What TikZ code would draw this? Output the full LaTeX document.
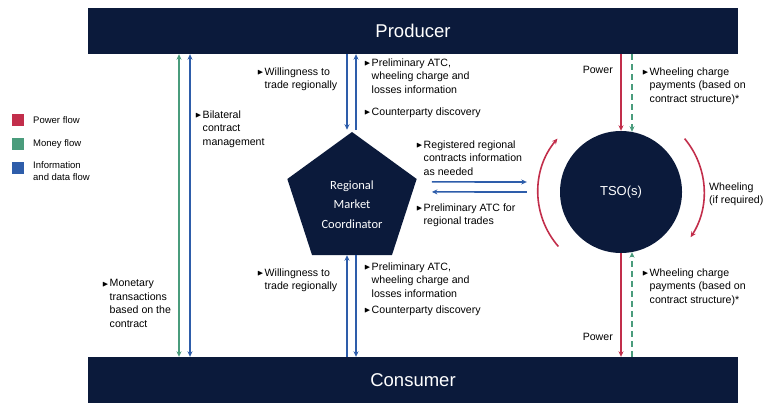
\documentclass[tikz,border=0pt]{standalone}
\usepackage{amssymb}
\usepackage{fontspec}
\setmainfont{Liberation Sans}
\newfontfamily\calfont{Carlito}
\usetikzlibrary{shapes.geometric,arrows.meta,calc}

\definecolor{navy}{HTML}{0B1A3B}
\definecolor{powerred}{HTML}{C22E4B}
\definecolor{moneygreen}{HTML}{4A9C7C}
\definecolor{infoblue}{HTML}{2E5DAA}

\newcommand\bul{\makebox[7.5pt][l]{\raisebox{0.6pt}{$\scriptstyle\blacktriangleright$}}}
\newcommand\ind{\hspace*{7.5pt}}

\tikzset{
  bar/.style={fill=navy,text=white,minimum width=650pt,minimum height=46pt,
    font=\fontsize{18.5}{22}\selectfont},
  txt/.style={align=left,inner sep=0pt,anchor=north west,
    font=\fontsize{10.6}{13.4}\selectfont},
  legtxt/.style={align=left,inner sep=0pt,anchor=west,
    font=\fontsize{9.5}{12.5}\selectfont},
  swatch/.style={minimum size=12pt,inner sep=0pt},
  flow/.style={line width=1.6pt,-{Stealth[length=5.5pt,width=5pt]}},
  twoway/.style={{Stealth[length=5.5pt,width=5pt]}-{Stealth[length=5.5pt,width=5pt]}},
  power/.style={flow,powerred},
  money/.style={flow,moneygreen},
  info/.style={flow,infoblue},
  paid/.style={money,dash pattern=on 6pt off 4pt},
}

\begin{document}
\begin{tikzpicture}[x=1pt,y=-1pt]
  \useasboundingbox (0,0) rectangle (767,403);
  % bars
  \node[bar] (prod) at (413,31) {Producer};
  \node[bar] (cons) at (413,380) {Consumer};
  % legend
  \node[swatch,fill=powerred] (lpow) at (18,120) {};
  \node[swatch,fill=moneygreen] (lmon) at (18,144) {};
  \node[swatch,fill=infoblue] (linf) at (18,168) {};
  \node[legtxt] (lpowt) at (33,120) {Power flow};
  \node[legtxt] (lmont) at (33,144) {Money flow};
  \node[legtxt] (linft) at (33,171) {Information\\and data flow};
  % main shapes
  \node[regular polygon,regular polygon sides=5,minimum size=136pt,inner sep=0pt,
    fill=navy,text=white,font=\calfont\fontsize{12.5}{19.5}\selectfont] (rmc) at (352,200)
    {\raisebox{-8pt}[0pt][0pt]{\begin{tabular}{@{}c@{}}Regional\\Market\\Coordinator\end{tabular}}};
  \node[circle,minimum size=122pt,fill=navy,text=white,
    font=\fontsize{13}{15}\selectfont] (tso) at (621,192) {TSO(s)};

  % bilateral arrows
  \coordinate (gm) at (179,200);
  \coordinate (bm) at (190,200);
  \draw[money,twoway] (gm |- prod.south) -- (gm |- cons.north);
  \draw[info,twoway] (bm |- prod.south) -- (bm |- cons.north);
  \node[txt] (bil) at (195,110.5) {\bul Bilateral\\\ind contract\\\ind management};
  \node[txt] (mon) at (102,279.5) {\bul Monetary\\\ind transactions\\\ind based on the\\\ind contract};

  % coordinator arrows
  \coordinate (rmcUL) at ($(rmc.north)+(-5,-2)$);
  \coordinate (rmcUR) at ($(rmc.north)+(4,-2)$);
  \coordinate (rmcB) at ($(rmc.corner 3)!0.5!(rmc.corner 4)$);
  \coordinate (rmcLL) at ($(rmcB)+(-5,0)$);
  \coordinate (rmcLR) at ($(rmcB)+(4,0)$);
  \draw[info] (rmcUL |- prod.south) -- (rmcUL);
  \draw[info] (rmcUR) -- (rmcUR |- prod.south);
  \draw[info] (rmcLL |- cons.north) -- (rmcLL);
  \draw[info] (rmcLR) -- (rmcLR |- cons.north);
  \node[txt] (wtr1) at (257,67.5) {\bul Willingness to\\\ind trade regionally};
  \node[txt] (atc1) at (364,58.5) {\bul Preliminary ATC,\\\ind wheeling charge and\\\ind losses information};
  \node[txt] (cpd1) at (364,107.5) {\bul Counterparty discovery};
  \node[txt] (wtr2) at (257,268.5) {\bul Willingness to\\\ind trade regionally};
  \node[txt] (atc2) at (364,262.5) {\bul Preliminary ATC,\\\ind wheeling charge and\\\ind losses information};
  \node[txt] (cpd2) at (364,305.5) {\bul Counterparty discovery};

  % coordinator <-> TSO
  \coordinate (hL) at ($(rmc.corner 5)+(15,3)$);
  \coordinate (hR) at ($(tso.west)+(-33,-10)$);
  \coordinate (hL2) at ($(hL)+(0,10)$);
  \coordinate (hR2) at ($(hR)+(0,10)$);
  \draw[info] (hL) -- (hR);
  \draw[info] (hR2) -- (hL2);
  \node[txt] (reg) at (416,140.5) {\bul Registered regional\\\ind contracts information\\\ind as needed};
  \node[txt] (atc3) at (416,203.5) {\bul Preliminary ATC for\\\ind regional trades};

  % TSO flows
  \coordinate (gt) at ($(tso.north)+(11,1)$);
  \coordinate (gb) at ($(tso.south)+(11,-1)$);
  \draw[power] (tso.north |- prod.south) -- (tso.north);
  \draw[paid] (gt |- prod.south) -- (gt);
  \draw[power] (tso.south) -- (tso.south |- cons.north);
  \draw[paid] (gb |- cons.north) -- (gb);
  \draw[power] ($(tso.center)+(139:83)$) arc[start angle=139,end angle=220,radius=83];
  \draw[power] ($(tso.center)+(-40:83)$) arc[start angle=-40,end angle=33,radius=83];
  \node[txt,anchor=east] (pow1) at (613,70) {Power};
  \node[txt,anchor=east] (pow2) at (613,337) {Power};
  \node[txt] (whc1) at (642,67.5) {\bul Wheeling charge\\\ind payments (based on\\\ind contract structure)*};
  \node[txt] (whc2) at (642,268.5) {\bul Wheeling charge\\\ind payments (based on\\\ind contract structure)*};
  \node[txt,anchor=west] (whl) at (709,194) {Wheeling\\(if required)};
\end{tikzpicture}
\end{document}
